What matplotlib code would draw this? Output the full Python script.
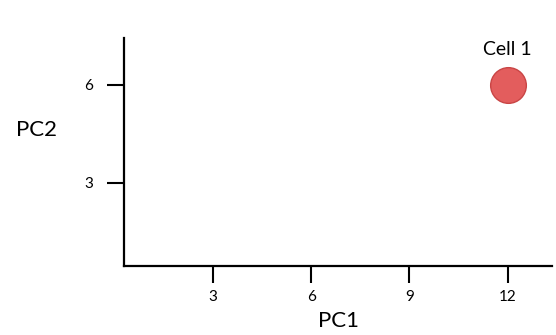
import matplotlib
matplotlib.use("Agg")
import matplotlib.pyplot as plt

# data
cell_names = ["Cell 1"]
pc1 = [12]
pc2 = [6]
x_ticks = [3, 6, 9, 12]
y_ticks = [3, 6]

plt.rcParams['font.family'] = ['Lato', 'DejaVu Sans']

fig = plt.figure(figsize=(5.56, 3.35), dpi=100)
ax = fig.add_axes([124/556, (335-266)/335, (552-124)/556, (266-38)/335])

ax.scatter(pc1, pc2, s=660, color='#e35d5d', edgecolors='#c94545', linewidths=1.0, zorder=3)
for name, x, y in zip(cell_names, pc1, pc2):
    ax.annotate(name, (x, y), xytext=(0, 19), textcoords='offset points',
                ha='center', va='bottom', fontsize=14)

ax.set_xlim(0.27, 13.36)
ax.set_ylim(0.46, 7.43)
ax.set_xticks(x_ticks)
ax.set_yticks(y_ticks)
ax.tick_params(axis='both', length=12, width=1.5, labelsize=11, pad=5)
ax.tick_params(axis='y', pad=10)

for side in ['top', 'right']:
    ax.spines[side].set_visible(False)
for side in ['left', 'bottom']:
    ax.spines[side].set_linewidth(1.6)

ax.set_xlabel('PC1', fontsize=16, labelpad=5)
ax.set_ylabel('PC2', fontsize=16, rotation=0, labelpad=0, va='center')
ax.yaxis.set_label_coords(-0.205, 0.596)

fig.savefig('out.png', dpi=100)
